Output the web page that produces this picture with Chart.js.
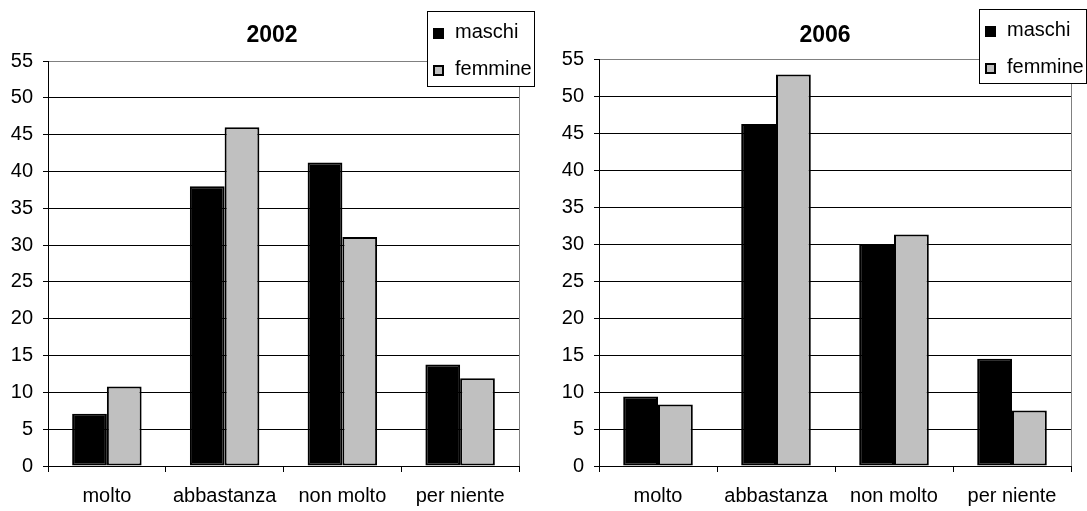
<!DOCTYPE html>
<html>
<head>
<meta charset="utf-8">
<script src="https://cdn.jsdelivr.net/npm/chart.js@4/dist/chart.umd.min.js"></script>
<style>
  html, body { margin: 0; padding: 0; background: #fff; overflow: hidden; }
  .panel { position: absolute; top: 0; }
  canvas { display: block; }
</style>
</head>
<body>
<div class="panel" style="left:0px"><canvas id="c2002" width="544" height="511"></canvas></div>
<div class="panel" style="left:553px"><canvas id="c2006" width="534" height="511"></canvas></div>
<script>
// Answers by category, percentages for male and female respondents
const categories = ['molto', 'abbastanza', 'non molto', 'per niente'];
const seriesNames = ['maschi', 'femmine'];
const maschi2002 = [7.1, 38.0, 41.2, 13.8];
const femmine2002 = [10.8, 46.0, 31.1, 11.9];
const maschi2006 = [9.4, 46.2, 30.0, 14.5];
const femmine2006 = [8.3, 52.9, 31.3, 7.5];
const yMin = 0, yMax = 55, yStep = 5;

const FONT = '"Liberation Sans", Arial, sans-serif';

// Draws the grey frame on the right of the plot, the title and the boxed legend
const panelDecor = {
  id: 'panelDecor',
  beforeDatasetsDraw(chart) {
    const a = chart.chartArea;
    const ctx = chart.ctx;
    ctx.save();
    ctx.strokeStyle = '#808080';
    ctx.lineWidth = 1;
    ctx.beginPath();
    ctx.moveTo(Math.round(a.right) + 0.5, a.top);
    ctx.lineTo(Math.round(a.right) + 0.5, a.bottom);
    ctx.stroke();
    ctx.restore();
  },
  afterDraw(chart, args, o) {
    const ctx = chart.ctx;
    ctx.save();
    // title
    ctx.fillStyle = '#000';
    ctx.font = 'bold 23px ' + FONT;
    ctx.textAlign = 'center';
    ctx.textBaseline = 'alphabetic';
    ctx.fillText(o.title, o.titleX, o.titleY);
    // legend box
    const L = o.legend;
    ctx.fillStyle = '#fff';
    ctx.fillRect(L.x, L.y, L.w, L.h);
    ctx.strokeStyle = '#000';
    ctx.lineWidth = 1;
    ctx.strokeRect(L.x + 0.5, L.y + 0.5, L.w - 1, L.h - 1);
    ctx.font = '20px ' + FONT;
    ctx.textAlign = 'left';
    chart.data.datasets.forEach((ds, i) => {
      const rowY = L.y + L.rowTop + i * L.rowStep;
      ctx.fillStyle = '#000';
      ctx.fillRect(L.x + L.markerX, rowY, 11, 11);
      ctx.fillStyle = ds.backgroundColor;
      ctx.fillRect(L.x + L.markerX + 2, rowY + 2, 7, 7);
      ctx.fillStyle = '#000';
      ctx.fillText(ds.label, L.x + L.textX, rowY + 10);
    });
    ctx.restore();
  }
};

function makeChart(id, year, maschi, femmine, g) {
  return new Chart(document.getElementById(id), {
    type: 'bar',
    data: {
      labels: categories,
      datasets: [
        { label: seriesNames[0], data: maschi, backgroundColor: '#000000', borderColor: '#000000', borderWidth: 2, borderSkipped: false },
        { label: seriesNames[1], data: femmine, backgroundColor: '#c0c0c0', borderColor: '#000000', borderWidth: 2, borderSkipped: false }
      ]
    },
    options: {
      responsive: false,
      animation: false,
      devicePixelRatio: 1,
      layout: { padding: { top: g.top, right: g.right, left: 0, bottom: 0 } },
      datasets: { bar: { categoryPercentage: 0.59, barPercentage: 1.0 } },
      plugins: {
        legend: { display: false },
        tooltip: { enabled: false },
        title: { display: false },
        panelDecor: {
          title: year,
          titleX: g.titleX,
          titleY: 42,
          legend: { x: g.legX, y: g.legY, w: 108, h: g.legH, markerX: 6, textX: 28, rowTop: 17, rowStep: 37 }
        }
      },
      scales: {
        x: {
          offset: true,
          grid: { offset: true, drawOnChartArea: false, drawTicks: true, tickLength: 6, color: '#000', lineWidth: 1 },
          border: { display: true, color: '#000', width: 1 },
          ticks: { color: '#000', font: { family: FONT, size: 20 }, padding: 12, maxRotation: 0, autoSkip: false },
          afterFit(scale) { scale.height = 45; }
        },
        y: {
          min: yMin, max: yMax,
          grid: {
            color: (c) => (c.tick && c.tick.value === yMax ? '#808080' : '#000'),
            tickColor: '#000', tickLength: 5, lineWidth: 1
          },
          border: { display: true, color: '#000', width: 1 },
          ticks: { stepSize: yStep, color: '#000', font: { family: FONT, size: 20 }, padding: 10 },
          afterFit(scale) { scale.width = g.axisW; }
        }
      }
    },
    plugins: [panelDecor]
  });
}

makeChart('c2002', '2002', maschi2002, femmine2002, { top: 61, right: 25, axisW: 48, titleX: 272, legX: 427, legY: 11, legH: 76 });
makeChart('c2006', '2006', maschi2006, femmine2006, { top: 59, right: 16, axisW: 46, titleX: 272, legX: 426, legY: 9, legH: 75 });
</script>
</body>
</html>
